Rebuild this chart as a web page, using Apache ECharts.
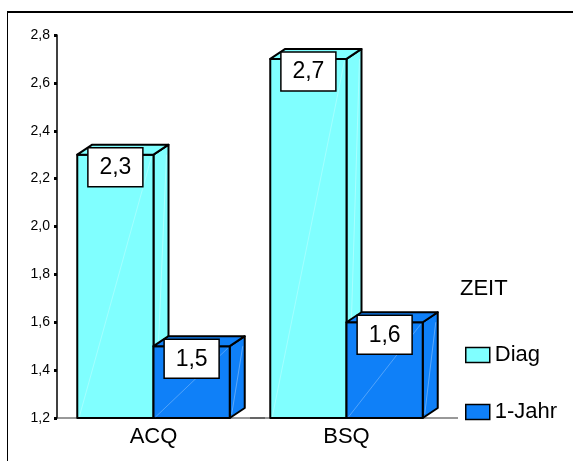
<!DOCTYPE html>
<html>
<head>
<meta charset="utf-8">
<script src="https://cdn.jsdelivr.net/npm/echarts@6/dist/echarts.min.js"></script>
<style>
html,body{margin:0;padding:0;background:#fff;}
#chart{width:573px;height:461px;}
</style>
</head>
<body>
<div id="chart"></div>
<script>
const categories = ['ACQ', 'BSQ'];
const seriesNames = ['Diag', '1-Jahr'];
const diagValues = [2.3, 2.7];
const jahrValues = [1.5, 1.6];
const yMin = 1.2, yMax = 2.8, yStep = 0.2;
const legendTitle = 'ZEIT';

const FONT = "'Liberation Sans', Arial, sans-serif";
const colors = ['#80FFFF', '#0F80F8'];
const DX = 15, DY = -10;

function fmt(v) { return v.toFixed(1).replace('.', ','); }

function makeRender(offset, color) {
  return function (params, api) {
    const c = api.value(0), v = api.value(1);
    const top = api.coord([c, v]);
    const base = api.coord([c, yMin]);
    const band = api.size([1, 0])[0];
    const bw = band * 0.395;
    const x0 = top[0] + offset * bw, x1 = x0 + bw;
    const y0 = top[1], yb = base[1];
    const stroke = { stroke: '#000', lineWidth: 2, lineJoin: 'round' };
    const children = [];
    if (offset === -1) {
      children.push({ type: 'line', shape: { x1: top[0] - band / 2, y1: yb, x2: top[0] + band / 2 + DX, y2: yb },
        style: { stroke: '#333', lineWidth: 1 } });
    }
    children.push(
      { type: 'polygon', shape: { points: [[x1, y0], [x1 + DX, y0 + DY], [x1 + DX, yb + DY], [x1, yb]] },
        style: Object.assign({ fill: color }, stroke) },
      { type: 'line', shape: { x1: x1 + 2, y1: yb - 4, x2: x1 + DX - 2, y2: y0 + DY + 10 },
        style: { stroke: 'rgba(255,255,255,0.45)', lineWidth: 0.7 } },
      { type: 'rect', shape: { x: x0, y: y0, width: bw, height: yb - y0 },
        style: Object.assign({ fill: color }, stroke) },
      { type: 'line', shape: { x1: x0 + 2, y1: yb - 1, x2: x1 - 2, y2: y0 + 2 },
        style: { stroke: 'rgba(255,255,255,0.4)', lineWidth: 0.7 } },
      { type: 'polygon', shape: { points: [[x0, y0], [x0 + DX, y0 + DY], [x1 + DX, y0 + DY], [x1, y0]] },
        style: Object.assign({ fill: color }, stroke) },
      { type: 'rect', shape: { x: (x0 + x1) / 2 - 27.5, y: y0 - 7, width: 55, height: 39 },
        style: { fill: '#fff', stroke: '#000', lineWidth: 1.5 } },
      { type: 'text', style: { text: fmt(v), x: (x0 + x1) / 2, y: y0 - 7 + 20, align: 'center', verticalAlign: 'middle',
        font: '23px ' + FONT, fill: '#000' } }
    );
    return { type: 'group', children: children };
  };
}

const chart = echarts.init(document.getElementById('chart'));
chart.setOption({
  animation: false,
  backgroundColor: '#fff',
  title: { text: legendTitle, left: 460, top: 278, padding: 0,
    textStyle: { fontFamily: FONT, fontSize: 22, fontWeight: 'normal', color: '#000' } },
  legend: {
    orient: 'vertical', left: 465, top: 344, padding: 0,
    itemWidth: 24, itemHeight: 15, itemGap: 35,
    textStyle: { fontFamily: FONT, fontSize: 22, color: '#000' },
    data: seriesNames.map((n, i) => ({ name: n, icon: 'rect',
      itemStyle: { color: colors[i], borderColor: '#000', borderWidth: 1.5 } }))
  },
  graphic: [
    { type: 'line', shape: { x1: 7, y1: 12, x2: 600, y2: 12 }, style: { stroke: '#000', lineWidth: 2 } },
    { type: 'line', shape: { x1: 7.5, y1: 12, x2: 7.5, y2: 470 }, style: { stroke: '#000', lineWidth: 1 } }
  ],
  grid: { left: 57, top: 35, right: 130, bottom: 43 },
  xAxis: {
    type: 'category', data: categories,
    axisLine: { show: false }, axisTick: { show: false },
    axisLabel: { fontFamily: FONT, fontSize: 22, color: '#000', margin: 8 }
  },
  yAxis: {
    type: 'value', min: yMin, max: yMax, interval: yStep,
    splitLine: { show: false },
    axisLine: { show: true, lineStyle: { color: '#000', width: 1.5 } },
    axisTick: { show: true, length: 3, lineStyle: { color: '#000', width: 3 } },
    axisLabel: { fontFamily: FONT, fontSize: 14, color: '#000', margin: 7, formatter: fmt }
  },
  series: [
    { type: 'custom', name: seriesNames[0], itemStyle: { color: colors[0] },
      renderItem: makeRender(-1, colors[0]),
      data: diagValues.map((v, i) => [i, v]) },
    { type: 'custom', name: seriesNames[1], itemStyle: { color: colors[1] },
      renderItem: makeRender(0, colors[1]),
      data: jahrValues.map((v, i) => [i, v]) }
  ]
});
</script>
</body>
</html>
